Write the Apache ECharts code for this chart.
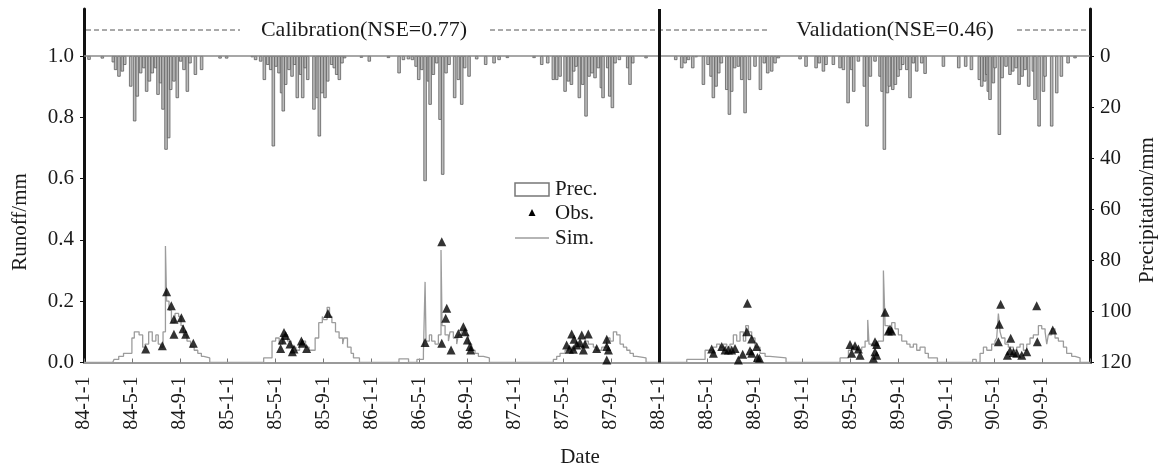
<!DOCTYPE html>
<html>
<head>
<meta charset="utf-8">
<script src="https://cdn.jsdelivr.net/npm/echarts@6/dist/echarts.min.js"></script>
<style>html,body{margin:0;padding:0;background:#fff}#c{width:1166px;height:469px}</style>
</head>
<body>
<div id="c"></div>
<script>
// x values are months counted from 1984-01-01
const xTickLabels = ['84-1-1','84-5-1','84-9-1','85-1-1','85-5-1','85-9-1','86-1-1','86-5-1','86-9-1','87-1-1','87-5-1','87-9-1','88-1-1','88-5-1','88-9-1','89-1-1','89-5-1','89-9-1','90-1-1','90-5-1','90-9-1'];
const runoffTicks = [0, 0.2, 0.4, 0.6, 0.8, 1.0];
const precTicks = [0, 20, 40, 60, 80, 100, 120];

const precMonth = [0.42,1.53,2.45,2.64,2.92,3.2,3.4,3.9,4.23,4.45,4.73,5.0,5.23,5.46,5.7,5.98,6.18,6.4,6.6,6.85,7.07,7.24,7.51,7.79,8.07,8.35,8.63,8.85,9.3,9.82,11.36,11.91,
 14.05,14.33,14.75,15.06,15.34,15.59,15.81,16.03,16.28,16.5,16.64,16.84,17.12,17.37,17.59,17.81,18.09,18.26,18.48,18.68,19.2,19.48,19.65,19.87,20.12,20.35,20.68,20.9,21.1,21.32,21.54,21.76,23.16,23.82,
 25.42,26.31,26.67,27.09,27.42,27.73,27.95,28.2,28.48,28.76,28.9,29.17,29.45,29.73,29.95,30.23,30.48,30.95,31.26,31.54,31.79,32.15,32.79,33.54,34.24,34.66,35.35,
 37.58,38.22,38.72,39.19,39.47,39.75,40.17,40.45,40.7,40.89,41.09,41.36,41.64,41.92,42.17,42.42,42.67,42.95,43.2,43.34,43.73,43.9,44.12,44.34,44.7,45.4,45.59,45.82,46.93,
 49.41,49.91,50.19,50.47,50.83,51.11,51.72,52.11,52.36,52.55,52.78,53.0,53.22,53.67,53.89,54.08,54.33,54.64,54.92,55.2,55.56,56.03,56.48,56.81,57.09,57.42,57.7,57.98,
 59.79,60.29,61.13,61.4,61.74,61.96,62.57,63.13,63.41,63.8,64.1,64.27,64.66,65.16,65.38,65.66,66.05,66.47,66.64,66.83,67.08,67.25,67.53,67.75,67.97,68.17,68.36,68.7,68.97,69.25,69.53,69.95,70.23,71.76,
 73.04,73.62,74.1,74.76,74.96,75.21,75.38,75.51,75.65,75.93,76.07,76.43,76.66,76.99,77.32,77.55,77.83,78.08,78.33,78.58,78.88,79.27,79.41,79.75,80.11,80.25,80.8,81.22,81.61,82.17,82.75];
const precMM = [1.5,1.0,2.5,5.5,8.1,6.1,3.5,12,25.6,15.9,6.8,4.8,14,10,6.8,4.8,15.2,10.7,21,36.7,32.2,13.3,10,16.5,2.2,5.5,14,2.9,7.4,5.5,1.0,1.0,
 0.5,1.6,2.2,9.4,3.5,5.5,35.4,4.2,6.8,14.6,21.7,11.3,5.5,8.1,3.5,16.5,7.4,16.5,4.8,9.4,21,16.5,31.5,14.6,16.5,10,3.5,4.8,7.4,9.4,2.9,0.9,0.7,2.2,
 0.8,6.8,1.6,1.3,1.6,4.2,9.4,5.5,49,10,19.1,7.4,2.9,25,46.5,6.8,3.5,16.5,9.4,19.1,4.8,8.1,1.3,3.5,2.9,1.6,0.8,
 0.8,3.5,2.9,9.4,9.4,8.1,14,10,11.3,6.1,4.2,16.5,11.3,23.7,8.1,6.8,8.7,4.8,12.6,16.5,4.8,15.9,20.4,2.9,1.6,4.8,11.3,2.9,0.9,
 1.6,4.8,2.9,1.6,4.8,0.5,11.3,3.5,8.1,16.5,12,6.8,2.9,13.3,23,14,4.8,4.2,9.4,22.4,9.4,4.2,13.3,2.9,6.8,6.1,2.9,0.9,
 1.3,4.2,4.8,2.9,6.1,3.5,3.5,4.8,5.5,18.5,5.5,14,2.2,12,27.6,8.1,2.2,8.1,14,36.7,14.6,12,13.3,11.3,8.1,5.5,3.5,5.5,16.5,2.9,6.1,2.9,7,4.2,
 4.8,4.2,5.5,9.4,12,10,7.4,14,17.2,10.7,4.8,30.9,8.7,4.2,7.4,6.1,4.8,11.3,8.1,5.5,12,6.1,17.2,27.6,14,8.1,27.6,14.6,8.1,2.9,0.9];

const simMonth = [0,2.4,2.5,2.9,3.3,4.0,4.2,4.6,4.9,5.1,5.4,5.7,6.0,6.2,6.4,6.6,6.8,6.9,7.1,7.3,7.6,7.9,8.1,8.3,8.6,8.9,9.2,9.5,9.8,10.0,10.5,
 15.0,15.7,16.0,16.3,16.6,17.0,17.3,17.7,18.0,18.2,18.5,18.8,19.3,19.6,19.9,20.0,20.3,20.5,20.7,21.0,21.3,21.6,21.7,22.0,22.3,22.5,23.0,
 26.3,27.1,27.8,28.34,28.48,28.56,28.84,29.03,29.31,29.59,29.81,29.9,30.15,30.43,30.56,30.84,31.12,31.26,31.54,31.82,32.1,32.37,32.65,32.93,33.35,33.85,
 39.19,39.47,39.75,40.17,40.45,40.72,41.0,41.42,41.84,42.11,42.53,42.81,43.23,43.65,43.92,44.2,44.48,44.76,45.04,45.32,45.59,45.87,46.15,46.93,
 50.33,51.86,52.41,52.55,52.83,53.11,53.39,53.67,53.94,54.22,54.5,54.78,55.06,55.25,55.48,55.75,56.03,56.45,56.87,57.28,58.62,
 63.13,63.83,64.1,64.52,64.94,65.22,65.44,65.55,65.91,66.3,66.75,66.89,67.16,67.44,67.72,68.0,68.28,68.7,68.97,69.25,69.53,69.81,70.23,70.5,71.26,
 74.2,74.5,74.82,75.1,75.38,75.79,76.07,76.21,76.35,76.49,76.63,76.9,77.18,77.6,77.88,78.16,78.44,78.72,78.99,79.27,79.69,79.97,80.25,80.39,80.52,80.8,81.08,81.36,81.78,82.05,82.47,82.75,83.17,84];
const simRunoff = [0,0,0.01,0.02,0.03,0.08,0.10,0.09,0.05,0.06,0.10,0.07,0.09,0.06,0.05,0.10,0.38,0.20,0.17,0.13,0.16,0.15,0.12,0.09,0.07,0.05,0.04,0.03,0.02,0.015,0,
 0.015,0.07,0.08,0.06,0.09,0.07,0.05,0.04,0.06,0.07,0.05,0.04,0.08,0.13,0.15,0.14,0.18,0.15,0.13,0.10,0.08,0.06,0.08,0.05,0.03,0.015,0,
 0.012,0,0.01,0.03,0.263,0.07,0.09,0.07,0.06,0.09,0.367,0.12,0.09,0.07,0.10,0.08,0.06,0.09,0.10,0.09,0.06,0.04,0.03,0.02,0.015,0,
 0.01,0.02,0.03,0.04,0.05,0.04,0.06,0.05,0.07,0.06,0.05,0.04,0.05,0.08,0.07,0.10,0.09,0.06,0.05,0.04,0.03,0.02,0.015,0,
 0.01,0.04,0.035,0.05,0.06,0.05,0.06,0.05,0.06,0.09,0.07,0.10,0.07,0.12,0.10,0.08,0.05,0.03,0.02,0.015,0,
 0.015,0.04,0.05,0.04,0.05,0.07,0.139,0.06,0.05,0.07,0.30,0.12,0.11,0.13,0.11,0.09,0.07,0.06,0.05,0.06,0.04,0.05,0.03,0.015,0,
 0.01,0,0.03,0.05,0.04,0.06,0.07,0.08,0.16,0.10,0.08,0.06,0.05,0.04,0.05,0.06,0.04,0.06,0.08,0.09,0.12,0.11,0.10,0.06,0.09,0.11,0.08,0.07,0.05,0.03,0.02,0.015,0,0];

const obsMonth = [5.15,6.54,6.9,7.29,7.51,7.51,8.13,8.27,8.49,9.13,
 16.42,16.56,16.7,16.84,17.2,17.4,17.53,18.15,18.23,18.59,20.37,
 28.48,29.87,29.87,30.29,30.2,30.65,31.26,31.68,31.82,32.01,32.23,32.29,
 40.3,40.53,40.72,40.86,40.92,41.14,41.42,41.56,41.7,41.84,42.11,42.81,43.65,43.65,43.79,43.65,
 52.41,52.55,53.25,53.53,53.81,54.08,54.36,54.64,55.0,55.39,55.34,55.61,55.75,55.75,56.17,56.23,56.4,
 63.96,64.1,64.38,64.66,64.8,65.91,66.05,66.19,66.05,66.19,66.89,67.3,67.44,67.16,
 76.54,76.43,76.35,77.38,77.1,77.32,77.6,77.88,78.3,78.72,79.55,79.6,80.89];
const obsRunoff = [0.044,0.055,0.231,0.185,0.141,0.092,0.146,0.11,0.092,0.0625,
 0.046,0.073,0.098,0.088,0.06,0.035,0.044,0.07,0.063,0.046,0.16,
 0.065,0.394,0.063,0.177,0.144,0.041,0.095,0.117,0.10,0.073,0.052,0.041,
 0.057,0.043,0.093,0.043,0.076,0.057,0.065,0.09,0.041,0.06,0.093,0.046,0.076,0.052,0.041,0.008,
 0.044,0.03,0.052,0.041,0.041,0.041,0.046,0.008,0.027,0.193,0.10,0.038,0.077,0.03,0.052,0.016,0.014,
 0.059,0.03,0.055,0.044,0.024,0.014,0.068,0.059,0.035,0.024,0.164,0.109,0.103,0.103,
 0.19,0.125,0.068,0.079,0.024,0.038,0.033,0.03,0.024,0.035,0.185,0.068,0.106];

const periodTitles = ['Calibration(NSE=0.77)', 'Validation(NSE=0.46)'];
const dividerMonth = 48;

const FONT = '"Liberation Serif","Times New Roman",serif';
const zip = (a, b) => a.map((v, i) => [v, b[i]]);
const labelAt = {};
xTickLabels.forEach(s => { const p = s.split('-'); labelAt[(+p[0] - 84) * 12 + (+p[1] - 1)] = s; });

const RUNOFF_MAX = 1.1533;
const PREC_MIN = (1 - RUNOFF_MAX) * 120;

const chart = echarts.init(document.getElementById('c'), null, {renderer: 'canvas'});
const t = (x, y, text, extra, size) => ({type: 'text', x: x, y: y, style: Object.assign({text: text, font: (size || 21) + 'px ' + FONT, fill: '#1a1a1a', textAlign: 'center', textVerticalAlign: 'middle'}, extra || {})});
const dash = (x1, x2) => ({type: 'line', shape: {x1: x1, y1: 30, x2: x2, y2: 30}, style: {stroke: '#555', lineWidth: 1, lineDash: [5, 3]}});

const graphics = [
  dash(86, 240), t(364, 30, periodTitles[0], null, 22), dash(490, 770),
  t(895, 30, periodTitles[1], null, 22), dash(1017, 1088),
  {type: 'rect', shape: {x: 515, y: 183, width: 34, height: 13}, style: {fill: '#fff', stroke: '#777', lineWidth: 1.5}},
  t(555, 189, 'Prec.', {textAlign: 'left'}),
  {type: 'polygon', shape: {points: [[532, 209], [528.5, 216], [535.5, 216]]}, style: {fill: '#000'}},
  t(555, 213, 'Obs.', {textAlign: 'left'}),
  {type: 'line', shape: {x1: 515, y1: 238, x2: 549, y2: 238}, style: {stroke: '#9c9c9c', lineWidth: 1.3}},
  t(555, 238, 'Sim.', {textAlign: 'left'}),
  Object.assign(t(20, 222, 'Runoff/mm'), {rotation: Math.PI / 2}),
  Object.assign(t(1147, 210, 'Precipitation/mm'), {rotation: Math.PI / 2}),
  t(580, 457, 'Date')
];

chart.setOption({
  animation: false,
  grid: {left: 84, right: 76, top: 9, bottom: 106.5, containLabel: false},
  xAxis: {
    type: 'value', min: 0, max: 84, interval: 4,
    axisLine: {onZero: false, lineStyle: {color: '#9a9a9a', width: 2}},
    axisTick: {inside: true, length: 4, lineStyle: {color: '#777', width: 1}},
    axisLabel: {rotate: 90, margin: 14, fontFamily: FONT, fontSize: 20, color: '#1a1a1a',
      formatter: v => labelAt[Math.round(v)] || ''},
    splitLine: {show: false}
  },
  yAxis: [{
    type: 'value', min: 0, max: RUNOFF_MAX, position: 'left',
    axisLine: {show: true, lineStyle: {color: '#111', width: 3}},
    axisTick: {show: true, length: 4, customValues: runoffTicks, lineStyle: {color: '#111'}},
    axisLabel: {customValues: runoffTicks, margin: 10, fontFamily: FONT, fontSize: 21, color: '#1a1a1a', formatter: v => v.toFixed(1)},
    splitLine: {show: false}
  }, {
    type: 'value', min: PREC_MIN, max: 120, inverse: true, position: 'right',
    axisLine: {show: true, lineStyle: {color: '#111', width: 3}},
    axisTick: {show: true, length: 4, customValues: precTicks, lineStyle: {color: '#111'}},
    axisLabel: {customValues: precTicks, margin: 10, fontFamily: FONT, fontSize: 21, color: '#1a1a1a'},
    splitLine: {show: false}
  }],
  series: [{
    name: 'Prec.', type: 'bar', xAxisIndex: 0, yAxisIndex: 1, barWidth: 3.4, barGap: '-100%',
    data: zip(precMonth, precMM),
    itemStyle: {color: '#bcbcbc', borderColor: '#5e5e5e', borderWidth: 0.8},
    markLine: {silent: true, symbol: 'none', label: {show: false},
      lineStyle: {color: '#8a8a8a', width: 1.5, type: 'solid'}, data: [{yAxis: 0}]},
    z: 2
  }, {
    name: 'Sim.', type: 'line', xAxisIndex: 0, yAxisIndex: 0, step: 'end', showSymbol: false,
    data: zip(simMonth, simRunoff),
    lineStyle: {color: '#9c9c9c', width: 1.3},
    markLine: {silent: true, symbol: 'none', label: {show: false},
      lineStyle: {color: '#111', width: 3, type: 'solid'}, data: [{xAxis: dividerMonth}]},
    z: 3
  }, {
    name: 'Obs.', type: 'scatter', xAxisIndex: 0, yAxisIndex: 0, symbol: 'triangle', symbolSize: 9,
    data: zip(obsMonth, obsRunoff),
    itemStyle: {color: '#000'}, z: 4
  }],
  graphic: graphics
});
</script>
</body>
</html>
